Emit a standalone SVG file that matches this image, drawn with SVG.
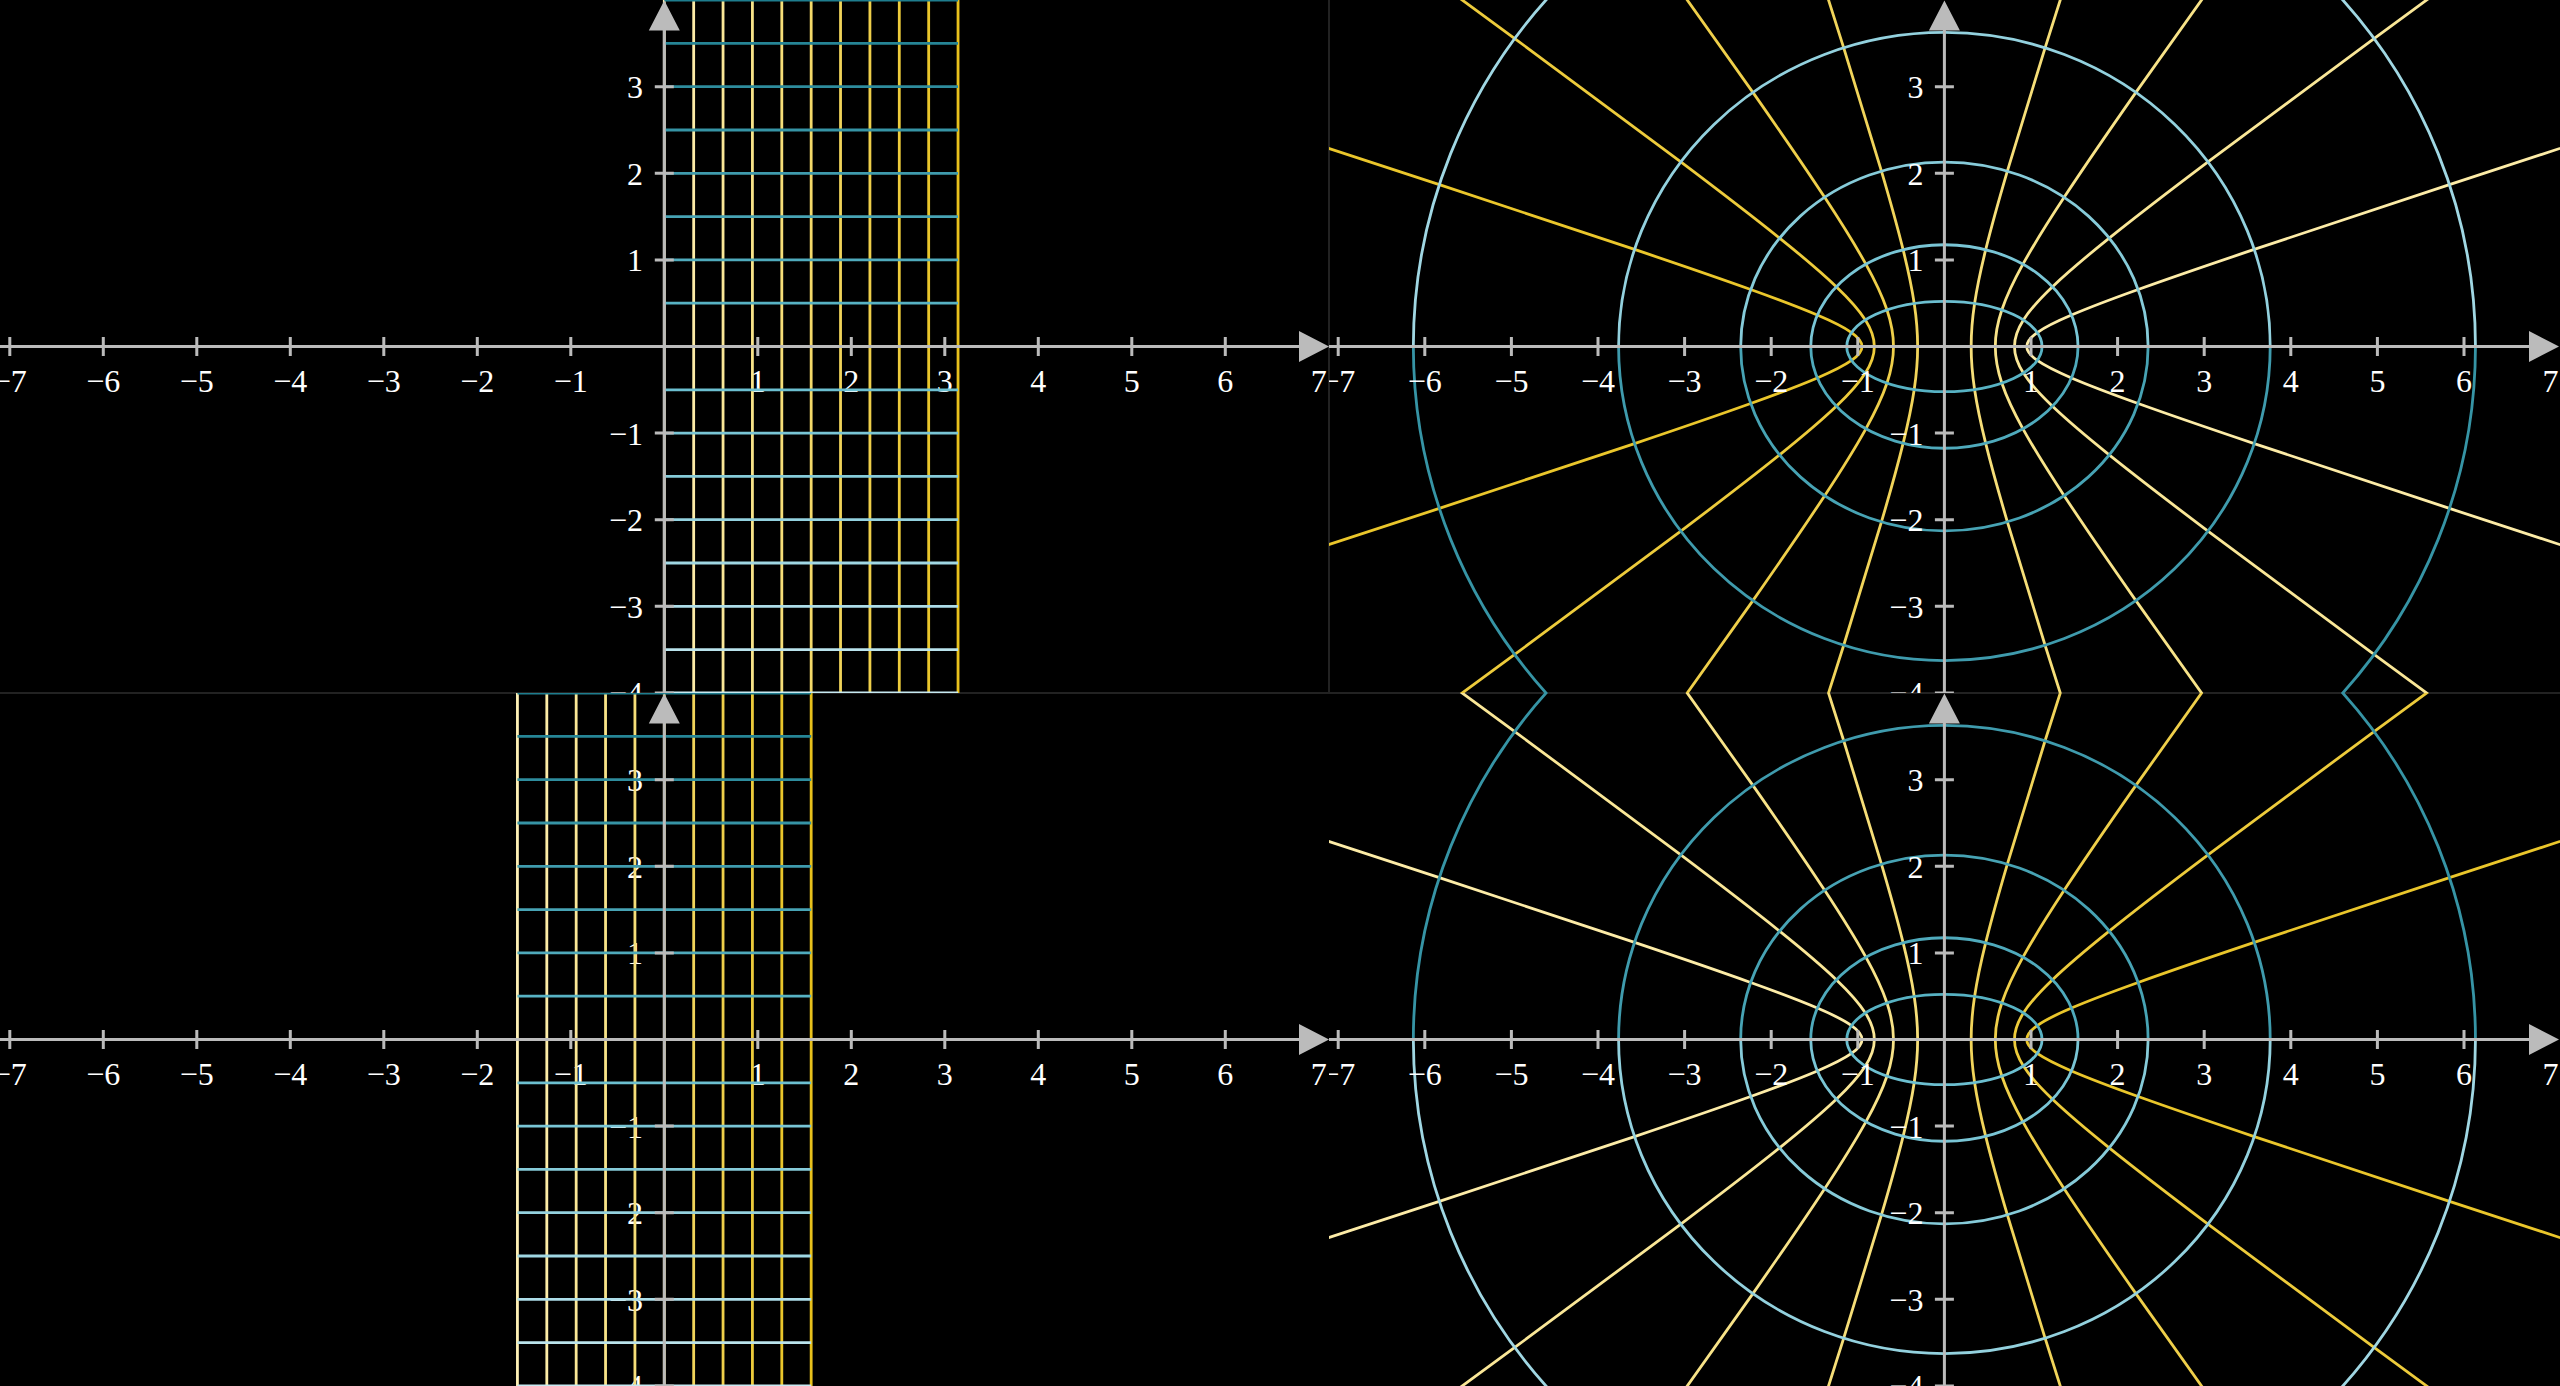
<svg xmlns="http://www.w3.org/2000/svg" width="2560" height="1386" viewBox="0 0 2560 1386">
<style>
.ax{stroke:#BBBBBB;stroke-width:3;fill:none}
.tip{fill:#BBBBBB;stroke:none}
.lab{font-family:"Liberation Serif","Times New Roman",serif;font-size:32px;fill:#FFFFFF}
.xl{text-anchor:middle}
.yl{text-anchor:end}
.gl path{fill:none;stroke-width:2.8}
.cv{fill:none;stroke-width:2.8;vector-effect:non-scaling-stroke}
.bd{stroke:#222222;stroke-width:2;fill:none}
</style>
<defs>
<clipPath id="cTL"><rect x="0" y="0" width="1329" height="693"/></clipPath>
<clipPath id="cBL"><rect x="0" y="693" width="1329" height="693"/></clipPath>
<clipPath id="cTR"><rect x="1329" y="0" width="1231" height="693"/></clipPath>
<clipPath id="cBR"><rect x="1329" y="693" width="1231" height="693"/></clipPath>
<path id="hyp" class="cv" d="M10.067662,-10.017875C8.398016,-8.339931 7.140656,-7.072252 6.132289,-6.050204C5.123922,-5.028156 4.366673,-4.253893 3.762196,-3.626860C3.157719,-2.999827 2.707290,-2.521347 2.352410,-2.129279C1.997530,-1.737211 1.738948,-1.432381 1.543081,-1.175201C1.347214,-0.918021 1.214475,-0.709033 1.127626,-0.521095C1.040777,-0.333157 1,-0.166667 1,0C1,0.166667 1.040777,0.333157 1.127626,0.521095C1.214475,0.709033 1.347214,0.918021 1.543081,1.175201C1.738948,1.432381 1.997530,1.737211 2.352410,2.129279C2.707290,2.521347 3.157719,2.999827 3.762196,3.626860C4.366673,4.253893 5.123922,5.028156 6.132289,6.050204C7.140656,7.072252 8.398016,8.339931 10.067662,10.017875"/>
<g id="grid" class="gl">
<path d="M0,-346.4V346.4" stroke="#FFF1B6"/>
<path d="M29.374,-346.4V346.4" stroke="#FDECA7"/>
<path d="M58.748,-346.4V346.4" stroke="#FAE797"/>
<path d="M88.122,-346.4V346.4" stroke="#F8E388"/>
<path d="M117.496,-346.4V346.4" stroke="#F6DE78"/>
<path d="M146.87,-346.4V346.4" stroke="#F4D969"/>
<path d="M176.244,-346.4V346.4" stroke="#F1D45A"/>
<path d="M205.618,-346.4V346.4" stroke="#EFCF4A"/>
<path d="M234.992,-346.4V346.4" stroke="#EDCB3B"/>
<path d="M264.366,-346.4V346.4" stroke="#EAC62B"/>
<path d="M293.74,-346.4V346.4" stroke="#E8C11C"/>
<path d="M0,346.4H293.74" stroke="#C7E9F1"/>
<path d="M0,303.1H293.74" stroke="#BAE3EC"/>
<path d="M0,259.8H293.74" stroke="#ADDDE8"/>
<path d="M0,216.5H293.74" stroke="#A0D7E3"/>
<path d="M0,173.2H293.74" stroke="#93D1DE"/>
<path d="M0,129.9H293.74" stroke="#86CBD9"/>
<path d="M0,86.6H293.74" stroke="#79C5D5"/>
<path d="M0,43.3H293.74" stroke="#6CBFD0"/>
<path d="M0,0H293.74" stroke="#5FB9CB"/>
<path d="M0,-43.3H293.74" stroke="#57B2C3"/>
<path d="M0,-86.6H293.74" stroke="#4FAABC"/>
<path d="M0,-129.9H293.74" stroke="#47A3B4"/>
<path d="M0,-173.2H293.74" stroke="#3F9BAD"/>
<path d="M0,-216.5H293.74" stroke="#3694A5"/>
<path d="M0,-259.8H293.74" stroke="#2E8C9D"/>
<path d="M0,-303.1H293.74" stroke="#268596"/>
<path d="M0,-346.4H293.74" stroke="#1E7D8E"/>
</g>
<g id="axL">
<path class="ax" d="M0,346.5H1300M664.3,693V29"/>
<path class="ax" d="M9.8,337v19M103.3,337v19M196.8,337v19M290.3,337v19M383.8,337v19M477.3,337v19M570.8,337v19M757.8,337v19M851.3,337v19M944.8,337v19M1038.3,337v19M1131.8,337v19M1225.3,337v19M654.8,86.7h19M654.8,173.3h19M654.8,259.9h19M654.8,433.1h19M654.8,519.7h19M654.8,606.3h19M654.8,692.9h19"/>
<path class="tip" d="M1329,346.5L1299,331L1299,362ZM664.3,0.5L648.8,30.5L679.8,30.5Z"/>
</g>
<g id="labL" class="lab">
<g class="xl">
<text x="9.8" y="391.5">−7</text><text x="103.3" y="391.5">−6</text><text x="196.8" y="391.5">−5</text><text x="290.3" y="391.5">−4</text><text x="383.8" y="391.5">−3</text><text x="477.3" y="391.5">−2</text><text x="570.8" y="391.5">−1</text>
<text x="757.8" y="391.5">1</text><text x="851.3" y="391.5">2</text><text x="944.8" y="391.5">3</text><text x="1038.3" y="391.5">4</text><text x="1131.8" y="391.5">5</text><text x="1225.3" y="391.5">6</text><text x="1318.8" y="391.5">7</text>
</g>
<g class="yl">
<text x="643" y="98.2">3</text><text x="643" y="184.8">2</text><text x="643" y="271.4">1</text><text x="643" y="444.6">−1</text><text x="643" y="531.2">−2</text><text x="643" y="617.8">−3</text><text x="643" y="704.4">−4</text>
</g>
</g>
<g id="axR">
<path class="ax" d="M1329,346.5H2530M1944.4,693V29"/>
<path class="ax" d="M1338.2,337v19M1424.8,337v19M1511.4,337v19M1598,337v19M1684.6,337v19M1771.2,337v19M1857.8,337v19M2031,337v19M2117.6,337v19M2204.2,337v19M2290.8,337v19M2377.4,337v19M2464,337v19M1934.9,86.7h19M1934.9,173.3h19M1934.9,259.9h19M1934.9,433.1h19M1934.9,519.7h19M1934.9,606.3h19M1934.9,692.9h19"/>
<path class="tip" d="M2559,346.5L2529,331L2529,362ZM1944.4,0.5L1928.9,30.5L1959.9,30.5Z"/>
</g>
<g id="labR" class="lab">
<g class="xl">
<text x="1338.2" y="391.5">−7</text><text x="1424.8" y="391.5">−6</text><text x="1511.4" y="391.5">−5</text><text x="1598" y="391.5">−4</text><text x="1684.6" y="391.5">−3</text><text x="1771.2" y="391.5">−2</text><text x="1857.8" y="391.5">−1</text>
<text x="2031" y="391.5">1</text><text x="2117.6" y="391.5">2</text><text x="2204.2" y="391.5">3</text><text x="2290.8" y="391.5">4</text><text x="2377.4" y="391.5">5</text><text x="2464" y="391.5">6</text><text x="2550.6" y="391.5">7</text>
</g>
<g class="yl">
<text x="1923.4" y="98.2">3</text><text x="1923.4" y="184.8">2</text><text x="1923.4" y="271.4">1</text><text x="1923.4" y="444.6">−1</text><text x="1923.4" y="531.2">−2</text><text x="1923.4" y="617.8">−3</text><text x="1923.4" y="704.4">−4</text>
</g>
</g>
</defs>
<rect x="0" y="0" width="2560" height="1386" fill="#000000"/>
<g id="borders"><path class="bd" d="M1329,0V693M0,693H2560"/></g>
<g id="panel-top-left" clip-path="url(#cTL)">
<use href="#labL"/>
<use href="#grid" transform="translate(664.3,346.5)"/>
<use href="#axL"/>
</g>
<g id="panel-bottom-left" clip-path="url(#cBL)">
<use href="#labL" transform="translate(0,693)"/>
<use href="#grid" transform="translate(517.43,1039.5)"/>
<use href="#axL" transform="translate(0,693)"/>
</g>
<g id="panel-top-right" clip-path="url(#cTR)">
<g id="trc" transform="translate(1944.4,346.5) scale(86.6,-86.6)">
<use href="#hyp" transform="scale(0.951057,0.309017)" stroke="#FDECA7"/>
<use href="#hyp" transform="scale(0.809017,0.587785)" stroke="#FAE797"/>
<use href="#hyp" transform="scale(0.587785,0.809017)" stroke="#F8E388"/>
<use href="#hyp" transform="scale(0.309017,0.951057)" stroke="#F6DE78"/>
<use href="#hyp" transform="scale(-0.309017,0.951057)" stroke="#F1D45A"/>
<use href="#hyp" transform="scale(-0.587785,0.809017)" stroke="#EFCF4A"/>
<use href="#hyp" transform="scale(-0.809017,0.587785)" stroke="#EDCB3B"/>
<use href="#hyp" transform="scale(-0.951057,0.309017)" stroke="#EAC62B"/>
<path class="cv" d="M1.127626,0A1.127626,0.521095 0 0 1 -1.127626,0" stroke="#6CBFD0"/>
<path class="cv" d="M1.127626,0A1.127626,0.521095 0 0 0 -1.127626,0" stroke="#57B2C3"/>
<path class="cv" d="M1.543081,0A1.543081,1.175201 0 0 1 -1.543081,0" stroke="#79C5D5"/>
<path class="cv" d="M1.543081,0A1.543081,1.175201 0 0 0 -1.543081,0" stroke="#4FAABC"/>
<path class="cv" d="M2.352410,0A2.352410,2.129279 0 0 1 -2.352410,0" stroke="#86CBD9"/>
<path class="cv" d="M2.352410,0A2.352410,2.129279 0 0 0 -2.352410,0" stroke="#47A3B4"/>
<path class="cv" d="M3.762196,0A3.762196,3.626860 0 0 1 -3.762196,0" stroke="#93D1DE"/>
<path class="cv" d="M3.762196,0A3.762196,3.626860 0 0 0 -3.762196,0" stroke="#3F9BAD"/>
<path class="cv" d="M6.132289,0A6.132289,6.050204 0 0 1 -6.132289,0" stroke="#A0D7E3"/>
<path class="cv" d="M6.132289,0A6.132289,6.050204 0 0 0 -6.132289,0" stroke="#3694A5"/>
</g>
<use href="#axR"/>
<use href="#labR"/>
</g>
<g id="panel-bottom-right" clip-path="url(#cBR)">
<use href="#trc" transform="translate(0,693) rotate(180 1944.4 346.5)"/>
<use href="#axR" transform="translate(0,693)"/>
<use href="#labR" transform="translate(0,693)"/>
</g>
</svg>
